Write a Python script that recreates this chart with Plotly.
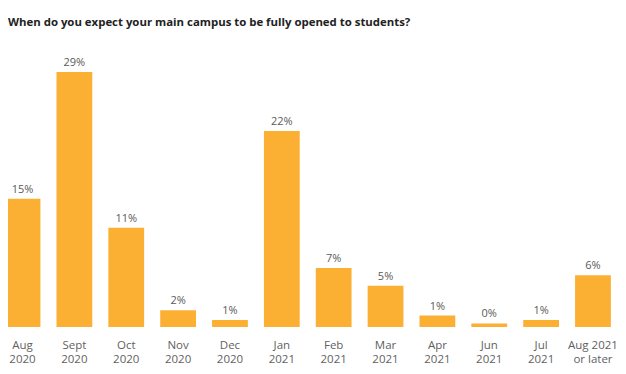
import plotly.graph_objects as go

categories = ["Aug<br>2020", "Sept<br>2020", "Oct<br>2020", "Nov<br>2020", "Dec<br>2020",
              "Jan<br>2021", "Feb<br>2021", "Mar<br>2021", "Apr<br>2021", "Jun<br>2021",
              "Jul<br>2021", "Aug 2021<br>or later"]
values = [14.6, 29.0, 11.3, 1.9, 0.8, 22.3, 6.7, 4.7, 1.3, 0.4, 0.8, 5.9]
labels = ["15%", "29%", "11%", "2%", "1%", "22%", "7%", "5%", "1%", "0%", "1%", "6%"]

fig = go.Figure(go.Bar(
    x=list(range(len(categories))),
    y=values,
    text=labels,
    textposition="outside",
    cliponaxis=False,
    textfont=dict(family="Open Sans", size=11, color="#5a5a5a"),
    marker=dict(color="#FBB034", line=dict(width=0)),
    width=0.69,
))

fig.update_layout(
    width=618, height=366,
    margin=dict(l=0, r=0, t=40, b=47),
    paper_bgcolor="white", plot_bgcolor="white",
    showlegend=False,
    title=dict(text="<b>When do you expect your main campus to be fully opened to students?</b>",
               x=0, xanchor="left", xref="paper", y=0.962, yanchor="middle",
               pad=dict(l=0, r=0, t=0, b=0),
               font=dict(family="Open Sans", size=11.4, color="#222222")),
    xaxis=dict(tickmode="array", tickvals=list(range(len(categories))), ticktext=categories,
               range=[-0.28, 11.637], showgrid=False, zeroline=False, showline=False,
               ticks="", ticklabelstandoff=9,
               tickfont=dict(family="Open Sans", size=11.5, color="#5f5f5f")),
    yaxis=dict(range=[0, 31.74], visible=False),
)

fig.write_html("out.html")
